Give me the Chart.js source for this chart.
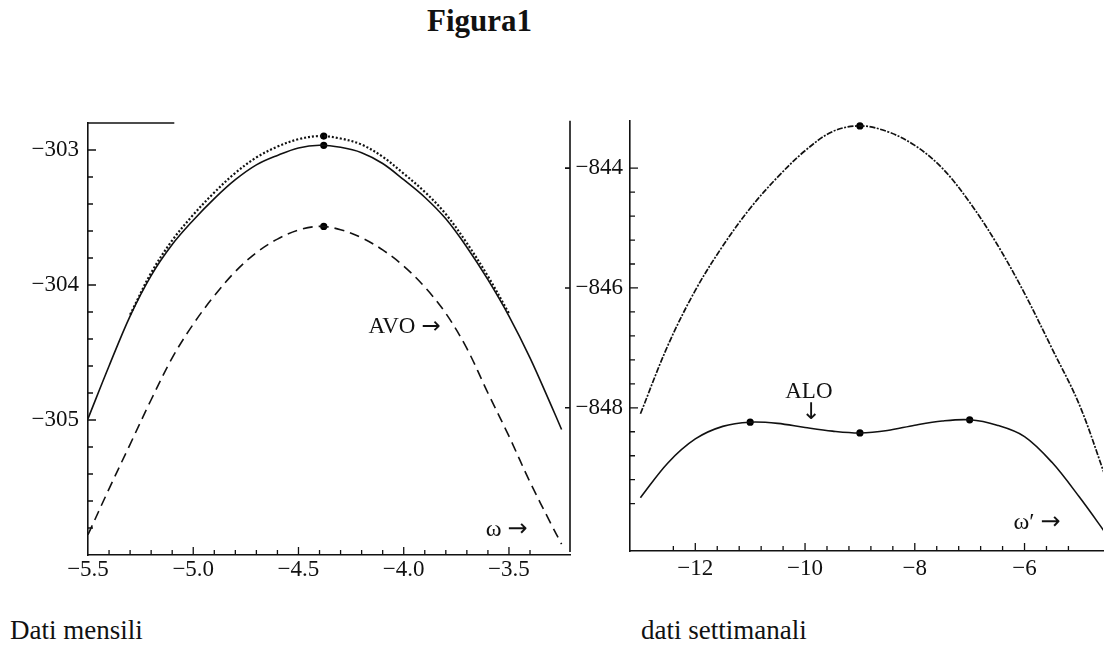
<!DOCTYPE html>
<html>
<head>
<meta charset="utf-8">
<script src="https://cdn.jsdelivr.net/npm/chart.js@4.4.1/dist/chart.umd.min.js"></script>
<style>
  html, body { margin: 0; padding: 0; background: #fff; }
  #pagina { position: relative; width: 1107px; height: 663px; overflow: hidden;
            font-family: "Liberation Serif", "Times New Roman", serif; color: #111; }
  canvas { position: absolute; }
  #cMese { left: 0; top: 100px; }
  #cSett { left: 560px; top: 100px; }
  .testo { position: absolute; white-space: nowrap; }
  #titolo { left: 427px; top: 6px; font-size: 31px; line-height: 30px; font-weight: bold; }
  #lblMese { left: 10px; top: 617px; font-size: 27px; line-height: 27px; }
  #lblSett { left: 641px; top: 617px; font-size: 27px; line-height: 27px; }
</style>
</head>
<body>
<div id="pagina">
  <div class="testo" id="titolo">Figura1</div>
  <canvas id="cMese" width="590" height="510"></canvas>
  <canvas id="cSett" width="547" height="510"></canvas>
  <div class="testo" id="lblMese">Dati mensili</div>
  <div class="testo" id="lblSett">dati settimanali</div>
</div>
<script>
// dati mensili (omega)
var meseX = [-5.5, -5.4, -5.3, -5.2, -5.1, -5.0, -4.9, -4.8, -4.7, -4.6, -4.5, -4.4,
             -4.3, -4.2, -4.1, -4.0, -3.9, -3.8, -3.7, -3.6, -3.5, -3.4, -3.3, -3.25];
var meseSolida = [-304.99, -304.60, -304.23, -303.93, -303.70, -303.52, -303.36, -303.22, -303.11, -303.04, -302.985, -302.965,
                  -302.98, -303.02, -303.10, -303.22, -303.35, -303.51, -303.72, -303.96, -304.23, -304.54, -304.89, -305.07];
var meseTratteggio = [-305.85, -305.51, -305.18, -304.85, -304.54, -304.29, -304.08, -303.90, -303.76, -303.66, -303.593, -303.566,
                      -303.59, -303.65, -303.74, -303.86, -304.015, -304.21, -304.47, -304.80, -305.12, -305.46, -305.77, -305.92];
var meseXPunti = [-5.3, -5.2, -5.1, -5.0, -4.9, -4.8, -4.7, -4.6, -4.5, -4.4,
                  -4.3, -4.2, -4.1, -4.0, -3.9, -3.8, -3.7, -3.6, -3.5];
var mesePunteggiata = [-304.22, -303.91, -303.67, -303.48, -303.315, -303.17, -303.055, -302.975, -302.92, -302.897,
                       -302.915, -302.96, -303.05, -303.175, -303.31, -303.475, -303.69, -303.935, -304.21];
var meseMaxX = [-4.38, -4.38, -4.38];
var meseMaxY = [-302.897, -302.965, -303.566];
var meseTickX = [-5.5, -5.0, -4.5, -4.0, -3.5];
var meseTickY = [-303, -304, -305];

// dati settimanali (omega')
var settX = [-13, -12.5, -12, -11.5, -11, -10.5, -10, -9.5, -9, -8.5, -8, -7.5, -7, -6.5, -6, -5.5, -5, -4.5];
var settSuperiore = [-848.10, -846.96, -846.04, -845.30, -844.67, -844.15, -843.71, -843.39, -843.295,
                     -843.39, -843.62, -844.00, -844.57, -845.27, -846.09, -847.01, -847.95, -849.22];
var settALO = [-849.50, -848.92, -848.52, -848.31, -848.24, -848.26, -848.33, -848.39, -848.42,
               -848.38, -848.29, -848.22, -848.20, -848.29, -848.48, -848.91, -849.49, -850.12];
var settMaxX = [-9.0, -11.0, -9.0, -7.0];
var settMaxY = [-843.295, -848.24, -848.42, -848.20];
var settTickX = [-12, -10, -8, -6];
var settTickY = [-844, -846, -848, -850];

var NERO = '#111';
var FONT = '"Liberation Serif", "Times New Roman", serif';
var FRECCE = '"DejaVu Sans", sans-serif';

function punti(xs, ys) {
	return xs.map(function(x, i) { return {x: x, y: ys[i]}; });
}

function multiplo(v, passo) {
	var r = v / passo;
	return Math.abs(r - Math.round(r)) < 1e-6;
}

function etichetta(lista, dec) {
	return function(v) {
		for (var i = 0; i < lista.length; i++) {
			if (Math.abs(lista[i] - v) < 1e-6) return '\u2212' + Math.abs(v).toFixed(dec);
		}
		return '';
	};
}

function curva(dati, dash, larg) {
	return { data: dati, borderColor: NERO, borderWidth: larg || 1.6, borderDash: dash || [],
	         pointRadius: 0, tension: 0.35, fill: false };
}

function pallini(dati) {
	return { data: dati, showLine: false, pointRadius: 3.6, pointBackgroundColor: '#000',
	         pointBorderWidth: 0, borderColor: '#000' };
}

// tacche interne, cornice e scritte sul grafico
var tacche = {
	id: 'tacche',
	afterDraw: function(chart, args, o) {
		var ctx = chart.ctx, a = chart.chartArea;
		var xs = chart.scales.x, ys = chart.scales.y;
		ctx.save();
		ctx.strokeStyle = NERO;
		ctx.lineWidth = 1.3;
		ctx.beginPath();
		xs.ticks.forEach(function(t) {
			if (!multiplo(t.value, o.xMinor)) return;
			var px = xs.getPixelForValue(t.value);
			if (px < a.left + 1 || px > a.right - 1) return;
			var len = multiplo(t.value, o.xMajor) ? 8 : 5;
			ctx.moveTo(px, a.bottom);
			ctx.lineTo(px, a.bottom - len);
		});
		ys.ticks.forEach(function(t) {
			if (!multiplo(t.value, o.yMinor)) return;
			var py = ys.getPixelForValue(t.value);
			if (py < a.top + 1 || py > a.bottom - 1) return;
			var len = multiplo(t.value, o.yMajor) ? 8 : 5;
			ctx.moveTo(a.left, py);
			ctx.lineTo(a.left + len, py);
		});
		ctx.stroke();

		ctx.lineWidth = 1.6;
		ctx.beginPath();
		if (o.lineaAlta != null) {
			ctx.moveTo(a.left, a.top);
			ctx.lineTo(xs.getPixelForValue(o.lineaAlta), a.top);
		}
		if (o.cornice != null) {
			var cx = a.left - o.cornice;
			ctx.moveTo(cx, a.top);
			ctx.lineTo(cx, a.bottom + 1);
			ys.ticks.forEach(function(t) {
				if (!multiplo(t.value, o.yMajor)) return;
				var py = ys.getPixelForValue(t.value);
				ctx.moveTo(cx, py);
				ctx.lineTo(cx - 5, py);
			});
		}
		ctx.stroke();

		ctx.fillStyle = NERO;
		ctx.textBaseline = 'middle';
		(o.note || []).forEach(function(n) {
			var px = xs.getPixelForValue(n.x), py = ys.getPixelForValue(n.y);
			ctx.font = n.dim + 'px ' + FONT;
			ctx.textAlign = n.allinea || 'left';
			ctx.fillText(n.t, px, py);
			if (n.freccia) {
				var w = ctx.measureText(n.t).width;
				ctx.font = n.dim + 'px ' + FRECCE;
				if (n.freccia === '\u2193') {
					ctx.textAlign = 'center';
					ctx.fillText(n.freccia, px + 2, py + n.dim * 0.95);
				} else {
					ctx.textAlign = 'left';
					ctx.fillText(n.freccia, px + w + 6, py);
				}
			}
		});
		ctx.restore();
	}
};

function opzioni(s) {
	return {
		responsive: false,
		animation: false,
		events: [],
		layout: { padding: s.padding },
		plugins: { legend: { display: false }, tooltip: { enabled: false }, tacche: s.tacche },
		scales: {
			x: {
				type: 'linear', min: s.xMin, max: s.xMax,
				grid: { display: false, drawTicks: false },
				border: { display: true, color: NERO, width: 1.6 },
				ticks: { stepSize: s.xStep, autoSkip: false, maxRotation: 0, padding: s.xPad,
				         color: NERO, font: { family: FONT, size: 23 }, callback: s.xLab },
				afterFit: function(sc) { sc.height = s.xAlt; }
			},
			y: {
				type: 'linear', min: s.yMin, max: s.yMax,
				grid: { display: false, drawTicks: false },
				border: { display: true, color: NERO, width: 1.6 },
				ticks: { stepSize: s.yStep, autoSkip: false, padding: s.yPad,
				         color: NERO, font: { family: FONT, size: 23 }, callback: s.yLab },
				afterFit: function(sc) { sc.width = s.yLarg; }
			}
		}
	};
}

new Chart(document.getElementById('cMese'), {
	type: 'line',
	data: { datasets: [
		curva(punti(meseX, meseSolida)),
		curva(punti(meseXPunti, mesePunteggiata), [2, 2], 2.2),
		curva(punti(meseX, meseTratteggio), [10, 6]),
		pallini(punti(meseMaxX, meseMaxY))
	] },
	options: opzioni({
		padding: { top: 23, right: 20, left: 0, bottom: 0 },
		xMin: -5.5, xMax: -3.21, xStep: 0.1, xPad: 1, xAlt: 55, xLab: etichetta(meseTickX, 1),
		yMin: -306, yMax: -302.8, yStep: 0.2, yPad: 9, yLarg: 88, yLab: etichetta(meseTickY, 0),
		tacche: { xMinor: 0.1, xMajor: 0.5, yMinor: 0.2, yMajor: 1, lineaAlta: -5.09, cornice: null,
		          note: [ { t: 'AVO', freccia: '\u2192', x: -4.167, y: -304.31, dim: 23 },
		                  { t: '\u03c9', freccia: '\u2192', x: -3.61, y: -305.81, dim: 24 } ] }
	}),
	plugins: [tacche]
});

new Chart(document.getElementById('cSett'), {
	type: 'line',
	data: { datasets: [
		curva(punti(settX, settSuperiore), [6, 1.5, 2, 1.5], 1.7),
		curva(punti(settX, settALO)),
		pallini(punti(settMaxX, settMaxY))
	] },
	options: opzioni({
		padding: { top: 20, right: 0, left: 0, bottom: 0 },
		xMin: -13.19, xMax: -4.57, xStep: 0.4, xPad: 4, xAlt: 59, xLab: etichetta(settTickX, 0),
		yMin: -850.39, yMax: -843.21, yStep: 0.4, yPad: 7, yLarg: 70, yLab: etichetta(settTickY, 0),
		tacche: { xMinor: 0.4, xMajor: 2, yMinor: 0.4, yMajor: 2, lineaAlta: null, cornice: 60,
		          note: [ { t: 'ALO', freccia: '\u2193', x: -9.93, y: -847.73, allinea: 'center', dim: 23 },
		                  { t: '\u03c9\u2032', freccia: '\u2192', x: -6.2, y: -849.92, dim: 24 } ] }
	}),
	plugins: [tacche]
});
</script>
</body>
</html>
